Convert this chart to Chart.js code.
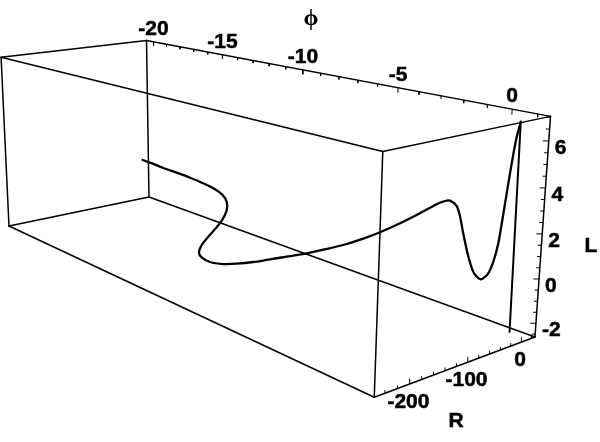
<!DOCTYPE html>
<html>
<head>
<meta charset="utf-8">
<script src="https://cdn.jsdelivr.net/npm/chart.js@4"></script>
<style>body{margin:0;background:#fff}canvas{display:block}</style>
</head>
<body>
<canvas id="plot3d" width="600" height="442"></canvas>
<script>
// curve: phi, R, L
var curvePhi = [-20.63,-20.01,-18.88,-17.78,-16.72,-15.69,-14.81,-14.26,-13.76,-13.19,-12.65,-12.22,-11.73,-11.32,-10.91,-10.58,-10.12,-9.70,-9.50,-9.26,-9.11,-8.94,-8.67,-7.49,-6.37,-5.31,-4.62,-3.64,-2.70,-1.94,-1.57,-1.35,-1.05,-0.86,-0.69,-0.42,-0.14,0.18,0.47,0.65,0.80,0.96,1.10,1.25,1.40];
var curveR = [16.9,16.2,14.1,12.0,10.0,7.7,6.0,5.2,-1.7,-19.0,-43.7,-68.5,-99.5,-123.9,-141.2,-145.8,-144.2,-132.0,-113.3,-89.5,-62.5,-35.4,-5.1,-7.5,-9.8,-11.3,-13.1,-14.5,-16.4,-18.0,-18.7,-19.1,-19.4,-20.3,-20.5,-20.6,-21.1,-22.0,-22.7,-22.9,-22.8,-23.7,-23.5,-23.6,-24.4];
var curveL = [-0.25,-0.26,-0.29,-0.28,-0.29,-0.33,-0.43,-0.60,-0.80,-1.00,-1.20,-1.35,-1.50,-1.65,-1.80,-1.90,-2.00,-2.05,-2.10,-2.10,-2.10,-2.10,-2.05,-1.40,-0.76,-0.07,0.41,1.16,1.93,2.58,2.84,2.92,2.77,2.35,1.66,0.69,0.04,-0.11,0.27,0.85,1.71,3.21,4.81,6.24,7.03];
var stemPhi = [1.40,1.40];
var stemR = [-20,-24.4];
var stemL = [-2.03,7.03];

var phiRange = [-20.55,1.48];
var rRange = [27.3,-256.8];
var lRange = [-2.63,7.03];

var phiTicks = [-20,-15,-10,-5,0];
var rTicks = [-200,-100,0];
var lTicks = [-2,0,2,4,6];

// perspective camera fitted to the box, works on 0..1 box coordinates
var camX = [149,224.3,-140.7,-7.33];
var camY = [197,38.16,11.76,-157.8];
var camW = [1,-0.3022,-0.0763,-0.033];

function project(phi,r,l){
  var u = (phi-phiRange[0])/(phiRange[1]-phiRange[0]);
  var v = (r-rRange[0])/(rRange[1]-rRange[0]);
  var w = (l-lRange[0])/(lRange[1]-lRange[0]);
  var d = camW[0]+camW[1]*u+camW[2]*v+camW[3]*w;
  return {
    x:(camX[0]+camX[1]*u+camX[2]*v+camX[3]*w)/d,
    y:(camY[0]+camY[1]*u+camY[2]*v+camY[3]*w)/d
  };
}

function seg(a,b,width){
  return {
    data:[project(a[0],a[1],a[2]),project(b[0],b[1],b[2])],
    showLine:true,pointRadius:0,borderColor:'#000',borderWidth:width,borderCapStyle:'round'
  };
}

var datasets = [];

// box edges
var pMin=phiRange[0],pMax=phiRange[1],rBack=rRange[0],rFront=rRange[1],lMin=lRange[0],lMax=lRange[1];
[lMin,lMax].forEach(function(l){
  datasets.push(seg([pMin,rBack,l],[pMax,rBack,l],1.5));
  datasets.push(seg([pMin,rFront,l],[pMax,rFront,l],1.5));
  datasets.push(seg([pMin,rBack,l],[pMin,rFront,l],1.5));
  datasets.push(seg([pMax,rBack,l],[pMax,rFront,l],1.5));
});
[[pMin,rBack],[pMin,rFront],[pMax,rBack],[pMax,rFront]].forEach(function(c){
  datasets.push(seg([c[0],c[1],lMin],[c[0],c[1],lMax],1.5));
});

// ticks
for(var p=-20;p<=1;p++){
  datasets.push(seg([p,rBack,lMax],[p,rBack,lMax-(p%5==0?0.22:0.13)],1));
}
for(var r=-240;r<=20;r+=20){
  datasets.push(seg([pMax,r,lMin],[pMax,r,lMin+(r%100==0?0.22:0.13)],1));
}
for(var l=-2.5;l<=7;l+=0.5){
  var len = l%2==0?1:0.6;
  datasets.push(seg([pMax,rBack,l],[pMax-0.11*len,rBack-5*len,l],1));
}

// the curve
datasets.push({
  data:curvePhi.map(function(p,i){return project(p,curveR[i],curveL[i]);}),
  showLine:true,pointRadius:0,borderColor:'#000',borderWidth:2.3,tension:0.25,borderCapStyle:'round'
});
datasets.push(seg([stemPhi[0],stemR[0],stemL[0]],[stemPhi[1],stemR[1],stemL[1]],2));

function label(c,text,x,y){
  c.fillText(text,x,y);
  c.strokeText(text,x,y);
}

var axisText = {
  id:'axisText',
  afterDatasetsDraw:function(chart){
    var c = chart.ctx;
    c.save();
    c.fillStyle = '#000';
    c.strokeStyle = '#000';
    c.lineWidth = 0.5;
    c.font = 'bold 21px "Liberation Sans"';
    c.textBaseline = 'middle';
    c.textAlign = 'center';
    phiTicks.forEach(function(t){
      var q = project(t,rBack,lMax);
      label(c,String(t),q.x,q.y-13);
    });
    rTicks.forEach(function(t){
      var q = project(pMax,t,lMin);
      label(c,String(t),q.x-1,q.y+18);
    });
    c.textAlign = 'left';
    lTicks.forEach(function(t){
      var q = project(pMax,rBack,t);
      label(c,String(t),q.x+6,q.y+7);
    });
    c.textAlign = 'center';
    label(c,'L',591,246);
    label(c,'R',456,421);
    c.font = 'bold 24px "Liberation Serif"';
    c.fillText('\u03d5',311,19);
    c.restore();
  }
};

new Chart(document.getElementById('plot3d'),{
  type:'scatter',
  data:{datasets:datasets},
  options:{
    responsive:false,
    animation:false,
    devicePixelRatio:1,
    layout:{padding:0},
    plugins:{legend:{display:false},tooltip:{enabled:false}},
    scales:{
      x:{type:'linear',min:0,max:600,display:false},
      y:{type:'linear',min:0,max:442,reverse:true,display:false}
    }
  },
  plugins:[axisText]
});
</script>
</body>
</html>
